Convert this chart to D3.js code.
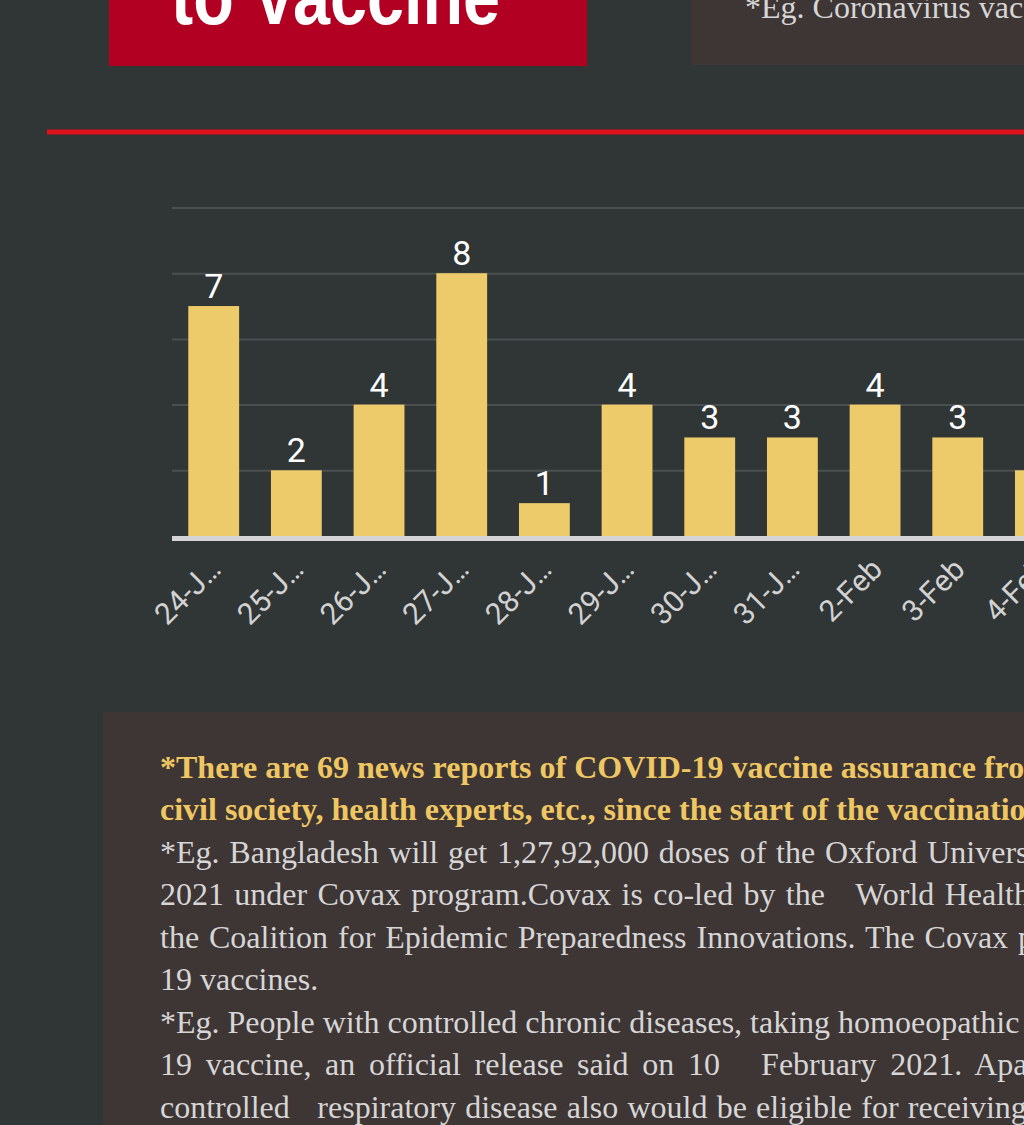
<!DOCTYPE html>
<html>
<head>
<meta charset="utf-8">
<script src="https://cdn.jsdelivr.net/npm/d3@7"></script>
<style>
	html, body { margin: 0; padding: 0; background: #303536; overflow: hidden; }
	svg { display: block; }
</style>
</head>
<body>
<div id="chart"></div>
<script>

///////////////////////////////////////////////////////////////////////////
///////////////////////////////// Data //////////////////////////////////
///////////////////////////////////////////////////////////////////////////

var dates = ["24-Jan", "25-Jan", "26-Jan", "27-Jan", "28-Jan", "29-Jan", "30-Jan", "31-Jan", "2-Feb", "3-Feb", "4-Feb"];
var counts = [7, 2, 4, 8, 1, 4, 3, 3, 4, 3, 2];
var yTicks = [0, 2, 4, 6, 8, 10];

var titleText = "to Vaccine";
var noteText = "*Eg. Coronavirus vaccine";
var summaryLines = [
	"*There are 69 news reports of COVID-19 vaccine assurance from",
	"civil society, health experts, etc., since the start of the vaccination"
];
var exampleLines = [
	"*Eg. Bangladesh will get 1,27,92,000 doses of the Oxford University",
	"2021 under Covax program.Covax is co-led by the   World Health",
	"the Coalition for Epidemic Preparedness Innovations. The Covax programme",
	"19 vaccines.",
	"*Eg. People with controlled chronic diseases, taking homoeopathic",
	"19 vaccine, an official release said on 10   February 2021. Apart",
	"controlled   respiratory disease also would be eligible for receiving"
];

///////////////////////////////////////////////////////////////////////////
//////////////////////////// Set up the svg ///////////////////////////////
///////////////////////////////////////////////////////////////////////////

var width = 1024,
	height = 1125;

var svg = d3.select("#chart")
	.append("svg")
	.attr("width", width)
	.attr("height", height);

svg.append("rect")
	.attr("width", width)
	.attr("height", height)
	.style("fill", "#303536");

///////////////////////////////////////////////////////////////////////////
////////////////////////////// Header boxes ///////////////////////////////
///////////////////////////////////////////////////////////////////////////

//Red title box, only its bottom part is in view
svg.append("rect")
	.attr("x", 109)
	.attr("y", -60)
	.attr("width", 478)
	.attr("height", 126)
	.style("fill", "#b10021");

//Narrow bold title: regular sans squeezed to the narrow width
svg.append("text")
	.attr("x", 171)
	.attr("y", 24)
	.attr("textLength", 329)
	.attr("lengthAdjust", "spacingAndGlyphs")
	.style("font-family", "'Liberation Sans', Arial, sans-serif")
	.style("font-weight", "bold")
	.style("font-size", "80px")
	.style("fill", "#ffffff")
	.text(titleText);

//Brown note box on the right
svg.append("rect")
	.attr("x", 691)
	.attr("y", -60)
	.attr("width", 400)
	.attr("height", 125)
	.style("fill", "#3e3535");

svg.append("text")
	.attr("x", 745)
	.attr("y", 18)
	.style("font-family", "'Liberation Serif', 'Times New Roman', serif")
	.style("font-size", "32px")
	.style("fill", "#d6d6d6")
	.text(noteText);

//Red divider
svg.append("rect")
	.attr("x", 47)
	.attr("y", 129.5)
	.attr("width", width)
	.attr("height", 5)
	.style("fill", "#df111c");

///////////////////////////////////////////////////////////////////////////
/////////////////////////////// Bar chart /////////////////////////////////
///////////////////////////////////////////////////////////////////////////

var chartLeft = 172,
	step = 82.67,
	padIn = 0.385,
	padOut = 0.197;

var x = d3.scaleBand()
	.domain(dates)
	.range([chartLeft, chartLeft + step * (dates.length - padIn + 2 * padOut)])
	.paddingInner(padIn)
	.paddingOuter(padOut);

var y = d3.scaleLinear()
	.domain([0, 10])
	.range([536, 207.5]);

var chart = svg.append("g").attr("class", "chart");

//Gridlines through the axis generator, labels hidden
var yAxis = chart.append("g")
	.attr("transform", "translate(" + chartLeft + ",0)")
	.call(d3.axisRight(y)
		.tickValues(yTicks.slice(1))
		.tickSize(width - chartLeft)
		.tickFormat(""));
yAxis.select(".domain").remove();
yAxis.selectAll(".tick line")
	.style("stroke", "#4a4f50")
	.style("stroke-width", "2px");

chart.selectAll(".bar")
	.data(counts)
	.enter().append("rect")
	.attr("class", "bar")
	.attr("x", function(d,i) { return x(dates[i]); })
	.attr("y", function(d) { return y(d); })
	.attr("width", x.bandwidth())
	.attr("height", function(d) { return y(0) - y(d); })
	.style("fill", "#eecb6a");

//Value labels
chart.selectAll(".value")
	.data(counts)
	.enter().append("text")
	.attr("class", "value")
	.attr("x", function(d,i) { return x(dates[i]) + x.bandwidth()/2; })
	.attr("y", function(d) { return y(d) - 8; })
	.attr("text-anchor", "middle")
	.style("font-family", "Roboto, sans-serif")
	.style("font-size", "34px")
	.style("fill", "#ffffff")
	.text(function(d) { return d; });

//Baseline
chart.append("line")
	.attr("x1", chartLeft)
	.attr("x2", width)
	.attr("y1", y(0) + 2.5)
	.attr("y2", y(0) + 2.5)
	.style("stroke", "#d4d4d4")
	.style("stroke-width", "5px");

//Rotated date labels, shortened with an ellipsis when too long
var labelSize = 30;
var xAxis = chart.append("g")
	.attr("transform", "translate(0," + (y(0) + 5) + ")")
	.call(d3.axisBottom(x).tickSize(0).tickPadding(0));
xAxis.select(".domain").remove();
xAxis.selectAll(".tick text")
	.attr("x", 0)
	.attr("y", 0)
	.attr("dy", 0)
	.attr("text-anchor", "end")
	.attr("transform", "translate(9,30) rotate(-45)")
	.style("font-family", "Roboto, sans-serif")
	.style("font-size", labelSize + "px")
	.style("fill", "#d2d2d2")
	.each(function(d) {
		var el = d3.select(this),
			maxW = 2.7 * labelSize,
			txt = d;
		el.text(txt);
		while (this.getComputedTextLength() > maxW && txt.length > 1) {
			txt = txt.slice(0, -1);
			el.text(txt + "\u2026");
		}//while
	});

///////////////////////////////////////////////////////////////////////////
//////////////////////////// Bottom text box //////////////////////////////
///////////////////////////////////////////////////////////////////////////

svg.append("rect")
	.attr("x", 103)
	.attr("y", 712)
	.attr("width", width)
	.attr("height", height)
	.style("fill", "#3e3535");

var lineHeight = 42.5,
	firstBase = 777.5;

//Word spacing to mimic the justified paragraph
var exampleSpacing = [1.8, 2.3, 1.9, 0, 0, 5.7, 1.2];

var textBox = svg.append("g")
	.style("font-family", "'Liberation Serif', 'Times New Roman', serif")
	.style("font-size", "32px");

textBox.selectAll(".summary")
	.data(summaryLines)
	.enter().append("text")
	.attr("class", "summary")
	.attr("x", 160)
	.attr("y", function(d,i) { return firstBase + i * lineHeight; })
	.style("font-weight", "bold")
	.style("fill", "#efc762")
	.text(function(d) { return d; });

textBox.selectAll(".example")
	.data(exampleLines)
	.enter().append("text")
	.attr("class", "example")
	.attr("xml:space", "preserve")
	.attr("x", 160)
	.attr("y", function(d,i) { return firstBase + (i + summaryLines.length) * lineHeight; })
	.style("white-space", "pre")
	.style("word-spacing", function(d,i) { return exampleSpacing[i] + "px"; })
	.style("fill", "#d6d6d6")
	.text(function(d) { return d; });

</script>
</body>
</html>
